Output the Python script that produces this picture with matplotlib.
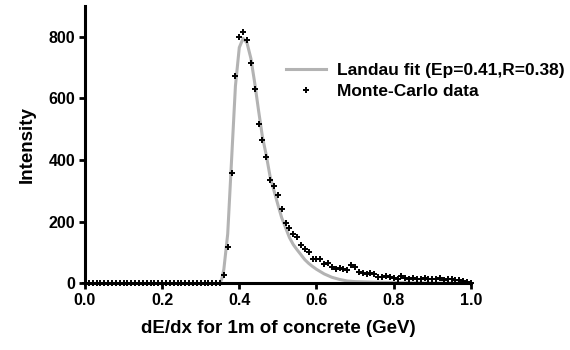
import numpy as np
import matplotlib.pyplot as plt

plt.rcParams['font.family'] = ['Liberation Sans', 'DejaVu Sans']
plt.rcParams['font.weight'] = 'bold'

# Monte-Carlo histogram, bins of 0.01 GeV from 0.0 to 1.0
mc_x = np.linspace(0.0, 1.0, 101)
mc_y = [0] * 36 + [
    26, 118, 359, 671, 798, 814, 788, 714, 631, 516,
    465, 411, 335, 315, 285, 241, 195, 179, 159, 150,
    124, 112, 102, 79, 77, 80, 62, 67, 51, 47,
    49, 47, 42, 59, 51, 37, 32, 29, 33, 29,
    19, 19, 23, 20, 18, 15, 22, 18, 14, 16,
    12, 13, 18, 12, 14, 12, 16, 10, 12, 13,
    10, 11, 8, 5, 1]

# Landau fit curve
fit_x = [0.35, 0.355, 0.36, 0.37, 0.38, 0.39, 0.40, 0.41, 0.42, 0.43,
         0.44, 0.45, 0.46, 0.47, 0.48, 0.49, 0.50, 0.51, 0.52, 0.53,
         0.54, 0.55, 0.56, 0.57, 0.58, 0.59, 0.60, 0.62, 0.64, 0.66,
         0.68, 0.70, 0.75, 0.80, 0.85, 0.90, 1.00]
fit_y = [0, 15, 45, 160, 400, 640, 765, 795, 780, 730,
         650, 560, 475, 415, 345, 300, 255, 212, 180, 148,
         125, 108, 92, 76, 64, 54, 45, 30, 19, 12,
         7, 5, 3, 2, 1, 0, 0]

fig = plt.figure(figsize=(5.7, 3.5), dpi=100)
ax = fig.add_axes([0.149, 0.191, 0.677, 0.792])

ax.plot(fit_x, fit_y, color='#b3b3b3', linewidth=2.2, label='Landau fit (Ep=0.41,R=0.38)')
ax.plot(mc_x, mc_y, linestyle='none', marker='+', color='black', markersize=5,
        markeredgewidth=1.4, clip_on=False, zorder=3, label='Monte-Carlo data')

ax.set_xlim(0, 1.0)
ax.set_ylim(0, 900)
ax.set_xticks([0.0, 0.2, 0.4, 0.6, 0.8, 1.0])
ax.set_yticks([0, 200, 400, 600, 800])
ax.xaxis.set_major_formatter(plt.FormatStrFormatter('%.1f'))

for s in ['top', 'right']:
    ax.spines[s].set_visible(False)
for s in ['left', 'bottom']:
    ax.spines[s].set_linewidth(2.2)
ax.tick_params(width=2, length=4, labelsize=11.5, pad=3)

ax.set_xlabel('dE/dx for 1m of concrete (GeV)', fontsize=13.5, fontweight='bold', labelpad=9)
ax.set_ylabel('Intensity', fontsize=13.5, fontweight='bold', labelpad=9)

ax.legend(loc='upper left', bbox_to_anchor=(0.522, 0.793), frameon=False, fontsize=12.5,
          handlelength=2.3, handletextpad=0.6, borderaxespad=0, labelspacing=0.3,
          borderpad=0)

fig.savefig('out.png', dpi=100)
